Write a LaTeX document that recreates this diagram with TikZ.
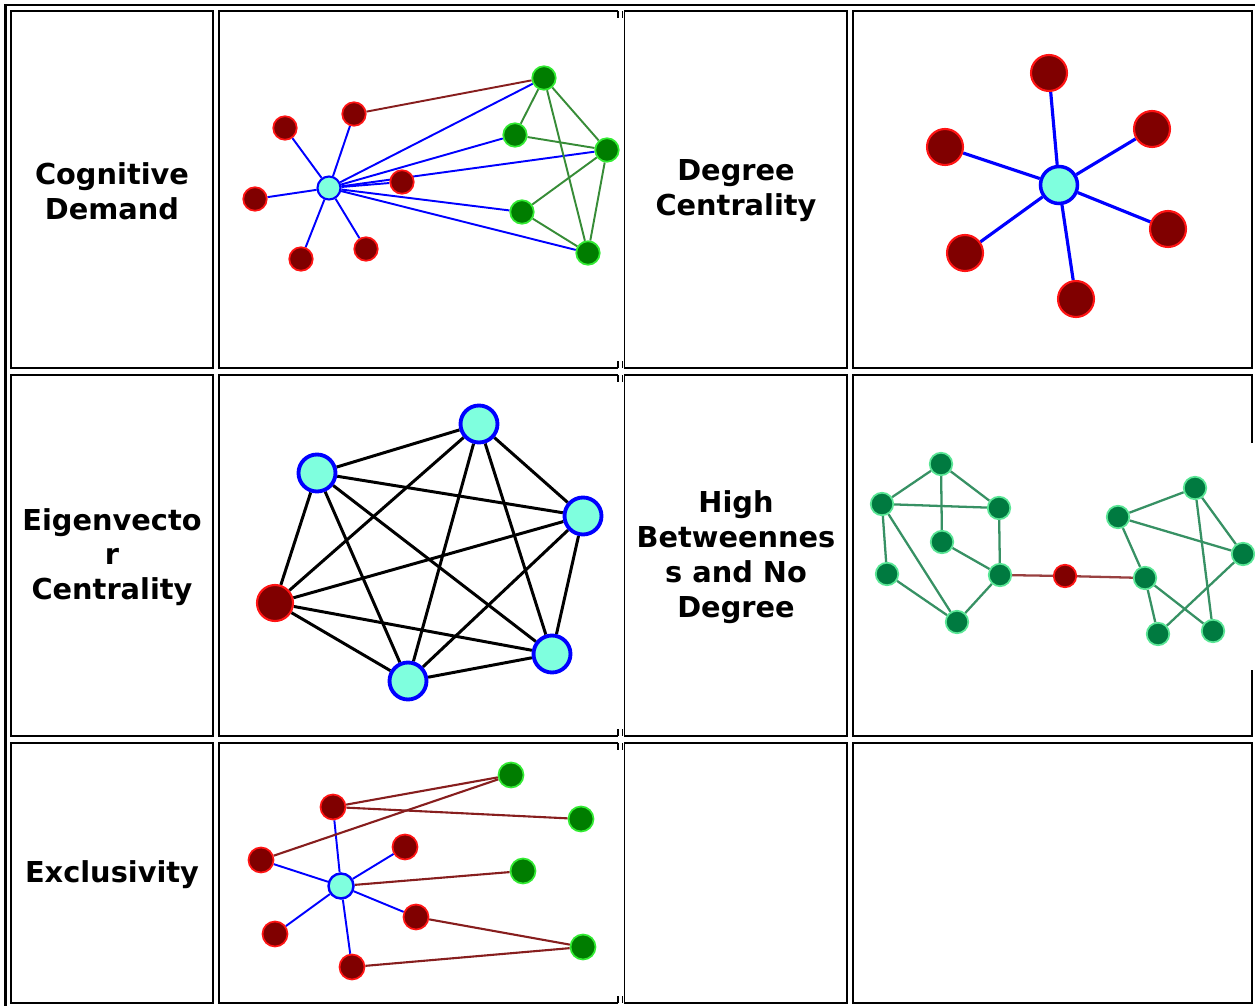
\documentclass[tikz,border=0pt]{standalone}
\usepackage{fontspec}
\setmainfont{DejaVu Sans}
\usetikzlibrary{positioning, backgrounds}
\definecolor{nodered}{RGB}{128,0,0}
\definecolor{rimred}{RGB}{255,20,20}
\definecolor{nodegreen}{RGB}{0,125,0}
\definecolor{rimgreen}{RGB}{50,235,50}
\definecolor{seagreen}{RGB}{0,122,64}
\definecolor{rimsea}{RGB}{90,230,150}
\definecolor{hubcyan}{RGB}{127,255,222}
\definecolor{edgegreen}{RGB}{55,140,55}
\definecolor{edgesea}{RGB}{55,145,100}
\definecolor{edgebrown}{RGB}{135,30,30}

\begin{document}
\begin{tikzpicture}[x=0.02cm, y=-0.02cm]
    \tikzset{cell/.style={draw, line width=0.6pt},
        celltext/.style={font=\bfseries\fontsize{16.4}{19.8}\selectfont, align=center},
        dot/.style={circle, inner sep=0pt},
        rednode/.style={dot, fill=nodered, draw=rimred, line width=1pt},
        greennode/.style={dot, fill=nodegreen, draw=rimgreen, line width=1pt},
        seanode/.style={dot, fill=seagreen, draw=rimsea, line width=1pt},
        hubnode/.style={dot, fill=hubcyan, draw=blue, line width=1.2pt}
    }
    \useasboundingbox (0,0) rectangle (1255,1006);
    \draw [line width=1.2pt] (5.5,5) rectangle (1262,1012);

    % table cells
    \foreach \ya / \yb in {11/368, 375/736, 743/1003} {
        \draw [cell] (11,\ya) rectangle (213,\yb);
        \draw [cell] (618,\ya) -- (219,\ya) -- (219,\yb) -- (618,\yb);
        \foreach \xs in {618, 622.5} {
            \draw [cell] (\xs,\ya) -- +(0,7);
            \draw [cell] (\xs,\yb) -- +(0,-7);
        }
        \draw [cell] (624.5,\ya) rectangle (847,\yb);
        \draw [cell] (853,\ya) rectangle (1252,\yb);
    }
    \fill [white] (1249,443) rectangle (1255,670);

    % labels
    \node [celltext] (cd-text) at (112,191) {Cognitive\\Demand};
    \node [celltext] (dc-text) at (736,191) {Degree\\Centrality};
    \node [celltext] (ev-text) at (112,557) {Eigenvecto\\r\\Centrality};
    \node [celltext] (hb-text) at (736,557) {High\\Betweennes\\s and No\\Degree};
    \node [celltext] (ex-text) at (112,875) {Exclusivity};

    % cognitive demand
    \node [hubnode, minimum size=0.46cm] (cd-hub) at (329,188) {};
    \foreach \n / \x / \y in {1/285/128, 2/354/114, 3/255/199, 4/402/182, 5/301/259, 6/366/249}
        \node [rednode, minimum size=0.47cm] (cd-r\n) at (\x,\y) {};
    \foreach \n / \x / \y in {1/544/78, 2/515/135, 3/607/150, 4/522/212, 5/588/253}
        \node [greennode, minimum size=0.47cm] (cd-g\n) at (\x,\y) {};
    \begin{scope}[on background layer]
        \foreach \t in {r1, r2, r3, r4, r5, r6, g1, g2, g3, g4, g5}
            \draw [blue, line width=1.1pt] (cd-hub) -- (cd-\t);
        \draw [edgebrown, line width=1.1pt] (cd-r2) -- (cd-g1);
        \foreach \a / \b in {g1/g2, g1/g3, g1/g5, g2/g3, g3/g4, g3/g5, g4/g5}
            \draw [edgegreen, line width=1.1pt] (cd-\a) -- (cd-\b);
    \end{scope}

    % degree centrality
    \node [hubnode, line width=2pt, minimum size=0.74cm] (dc-hub) at (1059,185) {};
    \foreach \n / \x / \y in {1/1049/73, 2/1152/129, 3/945/147, 4/1168/229, 5/965/253, 6/1076/299} {
        \node [rednode, line width=1.2pt, minimum size=0.72cm] (dc-r\n) at (\x,\y) {};
        \begin{scope}[on background layer]
            \draw [blue, line width=1.8pt] (dc-hub) -- (dc-r\n);
        \end{scope}
    }

    % eigenvector centrality
    \foreach \n / \x / \y in {1/479/424, 2/317/473, 3/583/516, 5/552/654, 6/408/681}
        \node [hubnode, line width=2.2pt, minimum size=0.74cm] (ev-\n) at (\x,\y) {};
    \node [rednode, line width=1.2pt, minimum size=0.72cm] (ev-4) at (275,603) {};
    \begin{scope}[on background layer]
        \foreach \a / \b in {1/2, 1/3, 1/4, 1/5, 1/6, 2/3, 2/4, 2/5, 2/6, 3/4, 3/5, 3/6, 4/5, 4/6, 5/6}
            \draw [black, line width=1.7pt] (ev-\a) -- (ev-\b);
    \end{scope}

    % high betweenness
    \foreach \n / \x / \y in {a/941/464, b/882/504, c/999/508, d/942/542, e/887/574, f/1000/575, g/957/622,
                              h/1195/488, i/1118/517, j/1243/554, k/1145/578, l/1158/634, m/1213/631}
        \node [seanode, minimum size=0.45cm] (hb-\n) at (\x,\y) {};
    \node [rednode, minimum size=0.45cm] (hb-mid) at (1065,576) {};
    \begin{scope}[on background layer]
        \foreach \a / \b in {a/b, a/c, a/d, b/c, b/e, b/g, c/f, d/f, e/g, f/g,
                             i/h, i/j, i/k, h/j, h/m, k/l, k/m, l/j}
            \draw [edgesea, line width=1.3pt] (hb-\a) -- (hb-\b);
        \draw [edgebrown!85!white, line width=1.3pt] (hb-f) -- (hb-mid) -- (hb-k);
    \end{scope}

    % exclusivity
    \node [hubnode, line width=1.4pt, minimum size=0.5cm] (ex-hub) at (341,886) {};
    \foreach \n / \x / \y in {1/333/807, 2/261/860, 3/405/847, 4/416/917, 5/275/934, 6/352/967}
        \node [rednode, minimum size=0.5cm] (ex-r\n) at (\x,\y) {};
    \foreach \n / \x / \y in {1/511/775, 2/581/819, 3/523/871, 4/583/947}
        \node [greennode, minimum size=0.5cm] (ex-g\n) at (\x,\y) {};
    \begin{scope}[on background layer]
        \foreach \t in {1, 2, 3, 4, 5, 6}
            \draw [blue, line width=1.1pt] (ex-hub) -- (ex-r\t);
        \foreach \a / \b in {r1/g1, r1/g2, r2/g1, hub/g3, r4/g4, r6/g4}
            \draw [edgebrown, line width=1.2pt] (ex-\a) -- (ex-\b);
    \end{scope}
\end{tikzpicture}
\end{document}
